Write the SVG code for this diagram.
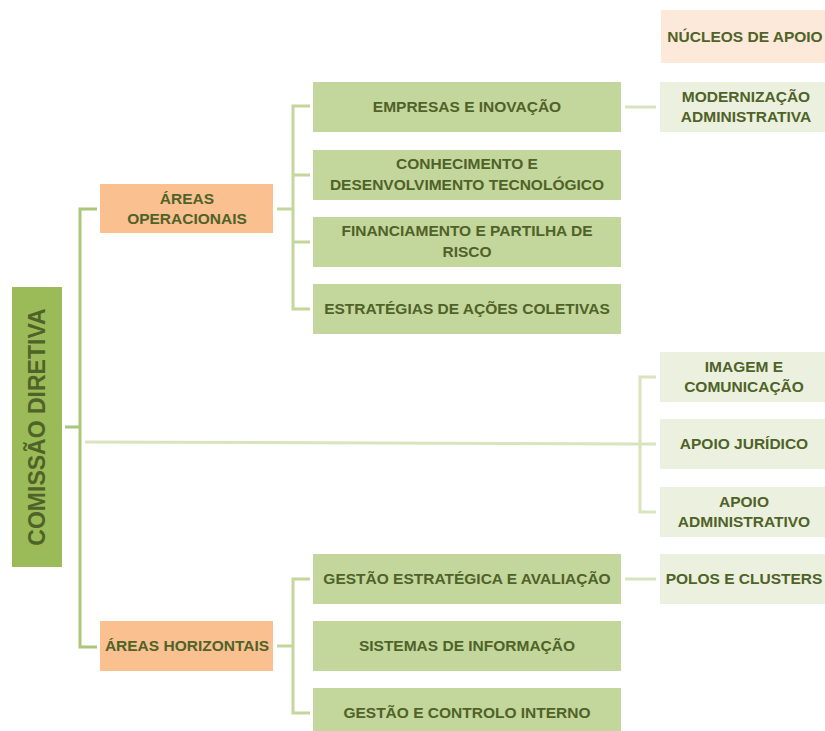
<svg xmlns="http://www.w3.org/2000/svg" width="825" height="731" viewBox="0 0 825 731">
<style>
text{font-family:"Liberation Sans",Arial,sans-serif;font-weight:bold;font-size:15.5px;fill:#4F6228;text-anchor:middle}
.root{fill:#9BBB59}
.area{fill:#FAC090}
.sub{fill:#C3D69B}
.sup{fill:#EBF1DE}
.hdr{fill:#FDE9D9}
.c1{stroke:#A9C77A;stroke-width:3;fill:none}
.c2{stroke:#C3D69B;stroke-width:3;fill:none}
.c3{stroke:#D7E4BD;stroke-width:3;fill:none}
</style>
<g id="connectors">
<path class="c1" d="M65 427H80M97 209H80V647H97"/>
<path class="c2" d="M277 209H293M310 106H293V309H310M293 175H310M293 242H310"/>
<path class="c2" d="M277 646H293M310 579H293V713H310"/>
<path class="c3" d="M625 107H656M625 579H656"/>
<path class="c3" d="M85 442L640 444M656 377H640V512H656M640 444H656"/>
</g>
<g id="comissao"><rect class="root" x="12" y="287" width="50" height="280"/><text transform="translate(45 427) rotate(-90)" style="font-size:23px">COMISSÃO DIRETIVA</text></g>
<g id="areas-operacionais"><rect class="area" x="100" y="184" width="173" height="49"/><text x="187" y="204">ÁREAS</text><text x="187" y="224">OPERACIONAIS</text></g>
<g id="areas-horizontais"><rect class="area" x="100" y="621" width="173" height="50"/><text x="187" y="651">ÁREAS HORIZONTAIS</text></g>
<g id="empresas"><rect class="sub" x="313" y="82" width="308" height="50"/><text x="467" y="112">EMPRESAS E INOVAÇÃO</text></g>
<g id="conhecimento"><rect class="sub" x="313" y="150" width="308" height="50"/><text x="467" y="169">CONHECIMENTO E</text><text x="467" y="190">DESENVOLVIMENTO TECNOLÓGICO</text></g>
<g id="financiamento"><rect class="sub" x="313" y="217" width="308" height="50"/><text x="467" y="236">FINANCIAMENTO E PARTILHA DE</text><text x="467" y="257">RISCO</text></g>
<g id="estrategias"><rect class="sub" x="313" y="284" width="308" height="50"/><text x="467" y="314">ESTRATÉGIAS DE AÇÕES COLETIVAS</text></g>
<g id="gestao-estrategica"><rect class="sub" x="313" y="554" width="308" height="50"/><text x="467" y="584">GESTÃO ESTRATÉGICA E AVALIAÇÃO</text></g>
<g id="sistemas"><rect class="sub" x="313" y="621" width="308" height="50"/><text x="467" y="651">SISTEMAS DE INFORMAÇÃO</text></g>
<g id="gestao-controlo"><rect class="sub" x="313" y="688" width="308" height="43"/><text x="467" y="718">GESTÃO E CONTROLO INTERNO</text></g>
<g id="nucleos"><rect class="hdr" x="661" y="10" width="164" height="53"/><text x="745" y="42">NÚCLEOS DE APOIO</text></g>
<g id="modernizacao"><rect class="sup" x="660" y="82" width="165" height="50"/><text x="746" y="102">MODERNIZAÇÃO</text><text x="746" y="122">ADMINISTRATIVA</text></g>
<g id="imagem"><rect class="sup" x="660" y="352" width="165" height="50"/><text x="744" y="372">IMAGEM E</text><text x="744" y="392">COMUNICAÇÃO</text></g>
<g id="juridico"><rect class="sup" x="660" y="419" width="165" height="50"/><text x="744" y="449">APOIO JURÍDICO</text></g>
<g id="administrativo"><rect class="sup" x="660" y="487" width="165" height="50"/><text x="744" y="507">APOIO</text><text x="744" y="527">ADMINISTRATIVO</text></g>
<g id="polos"><rect class="sup" x="660" y="554" width="165" height="50"/><text x="744" y="584">POLOS E CLUSTERS</text></g>
</svg>
